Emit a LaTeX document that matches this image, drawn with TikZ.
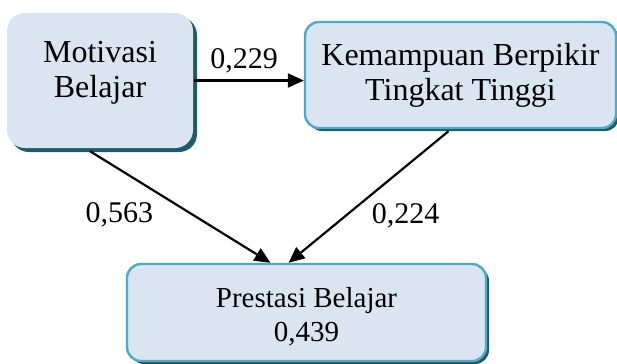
\documentclass[tikz,border=0pt]{standalone}
\usepackage{fontspec}
\setmainfont{Liberation Serif}
\newfontfamily\pathfont{Liberation Serif}
\usetikzlibrary{arrows.meta,shadows}
\definecolor{pathFill}  {HTML}{DBE5F1}
\definecolor{pathEdge}  {HTML}{4BACC6}
\definecolor{pathShade} {HTML}{215968}

\begin{document}
\begin{tikzpicture}[x=0.5bp, y=-0.5bp,
        every node/.style={font=\pathfont\fontsize{16bp}{17.5bp}\selectfont},
        var/.style={draw=pathEdge, line width=1.2bp, rounded corners=7bp, fill=pathFill, align=center,
            general shadow={fill=pathShade, shadow xshift=1.5bp, shadow yshift=-1.5bp}},
        coef/.style={font=\pathfont\fontsize{15bp}{17bp}\selectfont},
        ar/.style={-{Triangle[length=8bp, width=7bp]}, line width=1.1bp, black}
    ]
        \useasboundingbox (0,0) rectangle (617,363);
        \node[var, draw=none, rounded corners=9bp, minimum width=93bp, minimum height=67.5bp,
            general shadow={fill=pathShade, shadow xshift=2bp, shadow yshift=-2bp}] (mot) at (100,80.5) {};
        \node[align=center] (motText) at ([yshift=4bp]mot.center) {Motivasi\\Belajar};
        \node[var, minimum width=155.5bp, minimum height=53bp] (kem) at (460.5,75) {Kemampuan Berpikir\\Tingkat Tinggi};
        \node[var, minimum width=179.5bp, minimum height=48.5bp] (pres) at (306.5,312.5) {};
        \node[align=center, font=\pathfont\fontsize{14.5bp}{17bp}\selectfont] (presText) at ([yshift=-2bp]pres.center) {Prestasi Belajar\\0,439};
        \draw[ar] (mot.east) -- (kem.west |- mot.east) node[coef, midway, above, xshift=-2.5bp] (pA) {0,229};
        \draw[ar] ([xshift=-5bp, yshift=-1bp]mot.south) -- ([xshift=-18bp]pres.north) node[coef, pos=0.57, left=16bp] (pB) {0,563};
        \draw[ar] ([xshift=-6bp, yshift=-1bp]kem.south) -- ([xshift=-9bp]pres.north) node[coef, pos=0.64, right=9bp] (pC) {0,224};
    \end{tikzpicture}
\end{document}
